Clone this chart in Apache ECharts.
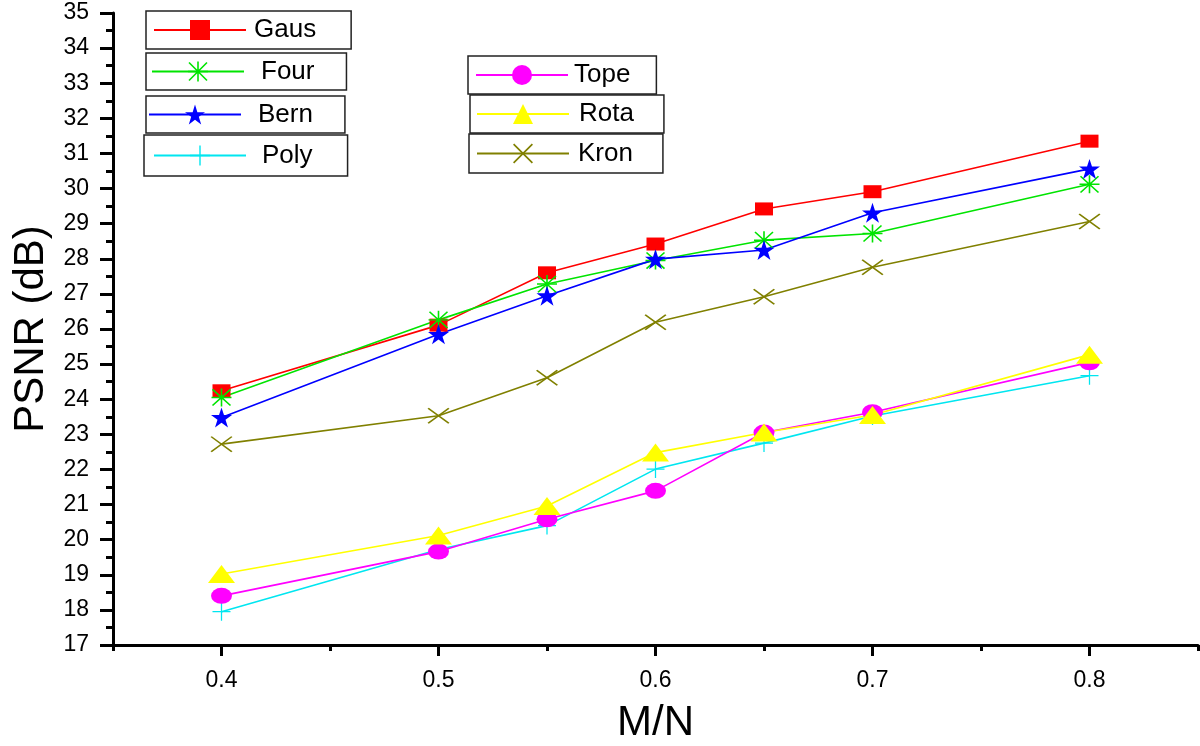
<!DOCTYPE html>
<html>
<head>
<meta charset="utf-8">
<script src="https://cdn.jsdelivr.net/npm/echarts@6/dist/echarts.min.js"></script>
<style>html,body{margin:0;padding:0;background:#fff}#c{width:1200px;height:746px}</style>
</head>
<body>
<div id="c"></div>
<script>
// ---- data ----
const xs = [0.4, 0.5, 0.55, 0.6, 0.65, 0.7, 0.8];
const gaus = [24.24, 26.11, 27.60, 28.42, 29.42, 29.91, 31.35];
const four = [24.05, 26.26, 27.28, 27.95, 28.53, 28.72, 30.12];
const bern = [23.48, 25.85, 26.95, 27.99, 28.25, 29.31, 30.56];
const poly = [17.95, 19.72, 20.40, 22.01, 22.75, 23.52, 24.67];
const tope = [18.40, 19.66, 20.58, 21.39, 23.05, 23.63, 25.05];
const rota = [19.02, 20.12, 20.96, 22.48, 23.05, 23.55, 25.27];
const kron = [22.72, 23.53, 24.61, 26.19, 26.92, 27.76, 29.06];
const xMajorTicks = [0.4, 0.5, 0.6, 0.7, 0.8];
const xMinorTicks = [0.35, 0.45, 0.55, 0.65, 0.75, 0.85];
const seriesNames = ['Gaus', 'Four', 'Bern', 'Poly', 'Tope', 'Rota', 'Kron'];

// ---- styles ----
const FONT = 'Liberation Sans, Arial, Helvetica, sans-serif';
const STAR = 'path://M50 0 L61.23 34.55 L97.55 34.55 L68.16 55.9 L79.39 90.45 L50 69.1 L20.61 90.45 L31.84 55.9 L2.45 34.55 L38.77 34.55 Z';
const ASTER = 'path://M0 9.2 H20 V10.8 H0 Z M9.2 0 H10.8 V20 H9.2 Z M1.57 0.43 L19.57 18.43 L18.43 19.57 L0.43 1.57 Z M18.43 0.43 L19.57 1.57 L1.57 19.57 L0.43 18.43 Z';
const PLUS = 'path://M0 9.3 H20 V10.7 H0 Z M9.3 0 H10.7 V20 H9.3 Z';
const CROSS = 'path://M1.2 0 L20 18.8 L18.8 20 L0 1.2 Z M18.8 0 L20 1.2 L1.2 20 L0 18.8 Z';

const styles = {
  Gaus: {color: '#ff0000', symbol: 'rect', size: [18, 13]},
  Four: {color: '#00e400', symbol: ASTER, size: [20, 18]},
  Bern: {color: '#0000ff', symbol: STAR, size: [21, 20]},
  Poly: {color: '#00e6f0', symbol: PLUS, size: [18, 18]},
  Tope: {color: '#ff00ff', symbol: 'circle', size: [21, 16]},
  Rota: {color: '#ffff00', symbol: 'triangle', size: [27, 18]},
  Kron: {color: '#808000', symbol: CROSS, size: [22, 16]}
};
const values = {Gaus: gaus, Four: four, Bern: bern, Poly: poly, Tope: tope, Rota: rota, Kron: kron};

// legend boxes: [left, top, padT, padR, padB, padL, spacer]
const legendBoxes = {
  Gaus: [146, 11, 5, 35, 5, 7, 3],
  Four: [146, 53, 4.5, 32, 4.5, 5, 12],
  Bern: [146, 96, 4.5, 32, 4.5, 2, 12],
  Poly: [144, 135, 6.5, 35, 6.5, 9, 11],
  Tope: [468, 56, 5, 26, 5, 7, 1],
  Rota: [470, 95, 5, 30, 5, 6, 5],
  Kron: [469, 134, 5.5, 30, 5.5, 7, 4]
};

const legends = seriesNames.map(n => {
  const b = legendBoxes[n];
  return {
    data: [n], left: b[0], top: b[1], orient: 'vertical',
    padding: [b[2], b[3], b[4], b[5]],
    itemWidth: 92, itemHeight: 25, itemGap: 0,
    borderColor: '#222', borderWidth: 1.5, borderRadius: 0, backgroundColor: '#fff',
    selectedMode: false,
    formatter: '{g| }{t|' + n + '}',
    textStyle: {
      fontSize: 26, fontFamily: FONT, color: '#000', lineHeight: 28,
      rich: {g: {width: b[6], fontSize: 26}, t: {fontSize: 26, fontFamily: FONT, color: '#000', lineHeight: 28}}
    }
  };
});

const series = seriesNames.map(n => ({
  name: n, type: 'line',
  data: xs.map((x, i) => [x, values[n][i]]),
  symbol: styles[n].symbol, symbolSize: styles[n].size,
  showAllSymbol: true,
  lineStyle: {color: styles[n].color, width: 1.6},
  itemStyle: {color: styles[n].color, borderWidth: 0},
  emphasis: {disabled: true},
  animation: false
}));

const chart = echarts.init(document.getElementById('c'), null, {renderer: 'canvas'});
chart.setOption({
  animation: false,
  backgroundColor: '#fff',
  grid: {left: 113, right: 2, top: 13, bottom: 101, containLabel: false, outerBoundsMode: 'none'},
  legend: legends,
  xAxis: [{
    type: 'value', min: 0.35, max: 0.85,
    name: 'M/N', nameLocation: 'middle', nameGap: 57,
    nameTextStyle: {fontSize: 42, fontFamily: FONT, color: '#000'},
    axisLine: {show: true, onZero: false, lineStyle: {color: '#000', width: 3}},
    axisTick: {show: true, customValues: xMajorTicks, length: 11, lineStyle: {color: '#000', width: 3}},
    axisLabel: {show: true, customValues: xMajorTicks, margin: 24, fontSize: 23, fontFamily: FONT, color: '#000'},
    splitLine: {show: false}
  }, {
    type: 'value', min: 0.35, max: 0.85, position: 'bottom', offset: 0,
    axisLine: {show: false, onZero: false},
    axisTick: {show: true, customValues: xMinorTicks, length: 6, lineStyle: {color: '#000', width: 3}},
    axisLabel: {show: false},
    splitLine: {show: false}
  }],
  yAxis: {
    type: 'value', min: 17, max: 35, interval: 1,
    name: 'PSNR (dB)', nameLocation: 'middle', nameGap: 59,
    nameTextStyle: {fontSize: 42, fontFamily: FONT, color: '#000'},
    axisLine: {show: true, onZero: false, lineStyle: {color: '#000', width: 3}},
    axisTick: {show: true, length: 13, lineStyle: {color: '#000', width: 3}},
    minorTick: {show: true, splitNumber: 2, length: 7, lineStyle: {color: '#000', width: 3}},
    axisLabel: {margin: 24, fontSize: 23, fontFamily: FONT, color: '#000'},
    splitLine: {show: false},
    minorSplitLine: {show: false}
  },
  series: series
});
</script>
</body>
</html>
